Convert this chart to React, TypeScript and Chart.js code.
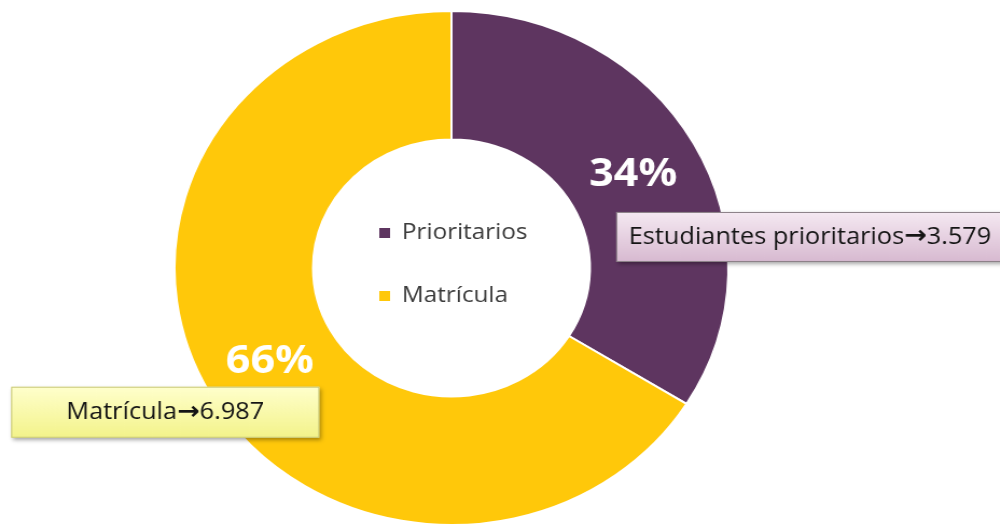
import { useEffect, useRef } from "react";
import { Chart, registerables } from "chart.js";

Chart.register(...registerables);

// ---- data ----
const categories = ["Prioritarios", "Matrícula"];
const values = [3579, 6987];
const calloutNames = ["Estudiantes prioritarios", "Matrícula"];
const calloutValues = ["3.579", "6.987"];
const colors = ["#5E3560", "#FFC80A"];

// ---- layout ----
const STRETCH = 1.0775;
const W = Math.round(1000 / STRETCH);
const H = 528;
const FONT = "'Open Sans', 'Noto Sans', sans-serif";

function drawParts(ctx: CanvasRenderingContext2D, parts: { t: string; f: string }[], x: number, y: number, align: string) {
  const widths = parts.map((p) => {
    ctx.font = p.f;
    return ctx.measureText(p.t).width;
  });
  const total = widths.reduce((a, b) => a + b, 0);
  let cx = align === "center" ? x - total / 2 : x;
  ctx.textAlign = "left";
  parts.forEach((p, i) => {
    ctx.font = p.f;
    ctx.fillText(p.t, cx, y);
    cx += widths[i];
  });
}

const overlayPlugin = {
  id: "overlay",
  afterDatasetsDraw(chart: any) {
    const ctx: CanvasRenderingContext2D = chart.ctx;
    const meta = chart.getDatasetMeta(0);
    const arcs = meta.data;
    if (!arcs.length) return;
    const cx = arcs[0].x;
    const cy = arcs[0].y;
    const R = arcs[0].outerRadius;
    const ds = chart.data.datasets[0];
    const total = (ds.data as number[]).reduce((a, b) => a + b, 0);

    // percent labels
    ctx.save();
    ctx.fillStyle = "#ffffff";
    ctx.font = `bold 40px ${FONT}`;
    ctx.textAlign = "center";
    ctx.textBaseline = "middle";
    arcs.forEach((arc: any, i: number) => {
      const p = arc.getCenterPoint();
      const pct = Math.round((ds.data[i] / total) * 100) + "%";
      ctx.fillText(pct, p.x, p.y);
    });
    ctx.restore();

    // center legend
    ctx.save();
    ctx.font = `500 22.5px ${FONT}`;
    ctx.textBaseline = "middle";
    ctx.textAlign = "left";
    const rows = [-35, 28];
    chart.data.labels.forEach((lab: string, i: number) => {
      const y = cy + rows[i];
      ctx.fillStyle = ds.backgroundColor[i];
      ctx.fillRect(cx - 67, y - 5, 10, 10);
      ctx.fillStyle = "#3a3a3a";
      ctx.fillText(lab, cx - 46, y);
    });
    ctx.restore();

    // callout boxes
    const boxes = [
      { x: cx + 0.595 * R, y: cy - 0.218 * R, w: 400, h: 50, top: "#F5E9F2", bot: "#D7B9D0", border: "#8C8088", align: "left", tx: cx + 0.64 * R },
      { x: cx - 1.59 * R, y: cy + 0.462 * R, w: 286, h: 51, top: "#FFFFCC", bot: "#F3F38A", border: "#C9C97A", align: "center", tx: cx - 1.59 * R + 143 },
    ];
    boxes.forEach((b, i) => {
      ctx.save();
      ctx.shadowColor = "rgba(0,0,0,0.35)";
      ctx.shadowBlur = 4;
      ctx.shadowOffsetX = 2;
      ctx.shadowOffsetY = 2;
      const g = ctx.createLinearGradient(0, b.y, 0, b.y + b.h);
      g.addColorStop(0, b.top);
      g.addColorStop(1, b.bot);
      ctx.fillStyle = g;
      ctx.fillRect(b.x, b.y, b.w, b.h);
      ctx.restore();
      ctx.save();
      ctx.strokeStyle = b.border;
      ctx.lineWidth = 1;
      ctx.strokeRect(b.x + 0.5, b.y + 0.5, b.w - 1, b.h - 1);
      ctx.fillStyle = "#141414";
      ctx.textBaseline = "middle";
      const f = `23.5px ${FONT}`;
      drawParts(
        ctx,
        [
          { t: calloutNames[i], f },
          { t: "\u2192", f: `bold 25px 'DejaVu Sans', sans-serif` },
          { t: calloutValues[i], f },
        ],
        b.tx,
        b.y + b.h / 2,
        b.align
      );
      ctx.restore();
    });
  },
};

export default function App() {
  const ref = useRef<HTMLCanvasElement | null>(null);
  useEffect(() => {
    if (!ref.current) return;
    const chart = new Chart(ref.current, {
      type: "doughnut",
      data: {
        labels: categories,
        datasets: [
          {
            data: values,
            backgroundColor: colors,
            borderColor: "#ffffff",
            borderWidth: 2,
            hoverOffset: 0,
            hoverBorderWidth: 2,
          },
        ],
      },
      options: {
        responsive: false,
        animation: false,
        devicePixelRatio: 1,
        cutout: "50%",
        layout: { padding: { top: 10, bottom: 2, left: 161, right: W - 161 - 516 } },
        plugins: { legend: { display: false }, tooltip: { enabled: false } },
      },
      plugins: [overlayPlugin],
    });
    return () => chart.destroy();
  }, []);
  return (
    <div style={{ position: "absolute", left: 0, top: 0, width: 1000, height: H, overflow: "hidden", background: "#fff" }}>
      <div style={{ transform: `scaleX(${STRETCH})`, transformOrigin: "0 0", width: W, height: H }}>
        <canvas ref={ref} width={W} height={H} style={{ width: W, height: H, display: "block" }} />
      </div>
    </div>
  );
}
